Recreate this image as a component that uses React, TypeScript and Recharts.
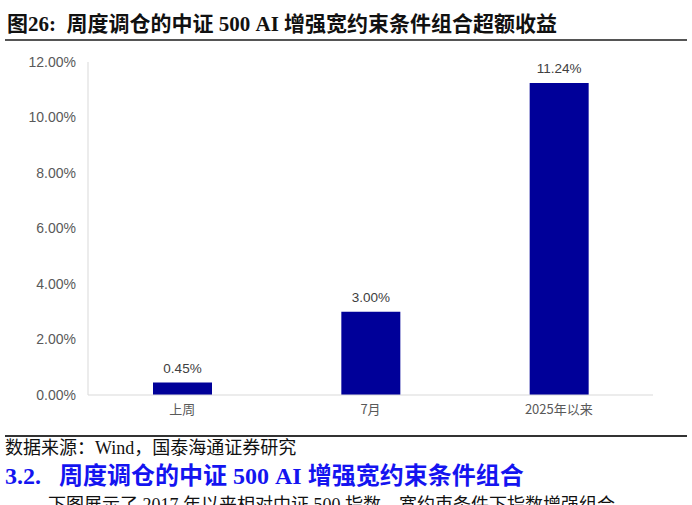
import React from 'react';
import { BarChart, Bar, XAxis, YAxis, LabelList } from 'recharts';

const categories = ['上周', '7月', '2025年以来'];
const excessReturn = [0.0045, 0.03, 0.1124];
const yTicks = [0, 0.02, 0.04, 0.06, 0.08, 0.1, 0.12];

const data = categories.map((name, i) => ({ name, value: excessReturn[i] }));

const pct = (v: number) => `${(v * 100).toFixed(2)}%`;

const serif = '"Liberation Serif", "Noto Sans CJK SC", serif';
const sans = '"Liberation Sans", Arial, sans-serif';

const App: React.FC = () => {
  return (
    <div
      style={{
        position: 'absolute',
        left: 0,
        top: 0,
        width: 692,
        height: 505,
        overflow: 'hidden',
        background: '#fff',
      }}
    >
      <div
        style={{
          position: 'absolute',
          left: 7,
          top: 12,
          fontFamily: serif,
          fontWeight: 'bold',
          fontSize: 21,
          lineHeight: '24px',
          color: '#111',
          whiteSpace: 'nowrap',
        }}
      >
        图26:&nbsp;&nbsp;周度调仓的中证 500 AI 增强宽约束条件组合超额收益
      </div>
      <div style={{ position: 'absolute', left: 5, top: 39, width: 682, height: 2, background: '#555' }} />

      <div style={{ position: 'absolute', left: 0, top: 0 }}>
        <BarChart width={692} height={430} data={data} margin={{ top: 62, right: 39, left: 8, bottom: 5 }}>
          <XAxis
            dataKey="name"
            height={30}
            tickLine={false}
            tickSize={0}
            tickMargin={10}
            axisLine={{ stroke: '#d9d9d9' }}
            tick={{ fill: '#595959', fontSize: 13, fontFamily: '"Noto Sans CJK SC", sans-serif' }}
          />
          <YAxis
            width={80}
            domain={[0, 0.12]}
            ticks={yTicks}
            tickFormatter={pct}
            tickLine={false}
            tickSize={0}
            tickMargin={12}
            axisLine={{ stroke: '#d9d9d9' }}
            tick={{ fill: '#595959', fontSize: 14, fontFamily: sans }}
          />
          <Bar dataKey="value" fill="#000099" barSize={59} isAnimationActive={false}>
            <LabelList
              dataKey="value"
              position="top"
              offset={10}
              formatter={(v: any) => pct(Number(v))}
              style={{ fill: '#404040', fontSize: 13.5, fontFamily: sans }}
            />
          </Bar>
        </BarChart>
      </div>

      <div style={{ position: 'absolute', left: 5, top: 435, width: 682, height: 2, background: '#333' }} />
      <div
        style={{
          position: 'absolute',
          left: 5,
          top: 438,
          fontFamily: serif,
          fontSize: 18,
          lineHeight: '21px',
          color: '#111',
          whiteSpace: 'nowrap',
        }}
      >
        数据来源：Wind，国泰海通证券研究
      </div>
      <div
        style={{
          position: 'absolute',
          left: 5,
          top: 462,
          fontFamily: serif,
          fontWeight: 'bold',
          fontSize: 24,
          lineHeight: '28px',
          color: '#1414f0',
          whiteSpace: 'nowrap',
        }}
      >
        3.2.&nbsp;&nbsp;&nbsp;周度调仓的中证 500 AI 增强宽约束条件组合
      </div>
      <div
        style={{
          position: 'absolute',
          left: 48,
          top: 494,
          fontFamily: serif,
          fontSize: 18,
          lineHeight: '22px',
          color: '#111',
          whiteSpace: 'nowrap',
        }}
      >
        下图展示了 2017 年以来相对中证 500 指数，宽约束条件下指数增强组合
      </div>
    </div>
  );
};

export default App;
